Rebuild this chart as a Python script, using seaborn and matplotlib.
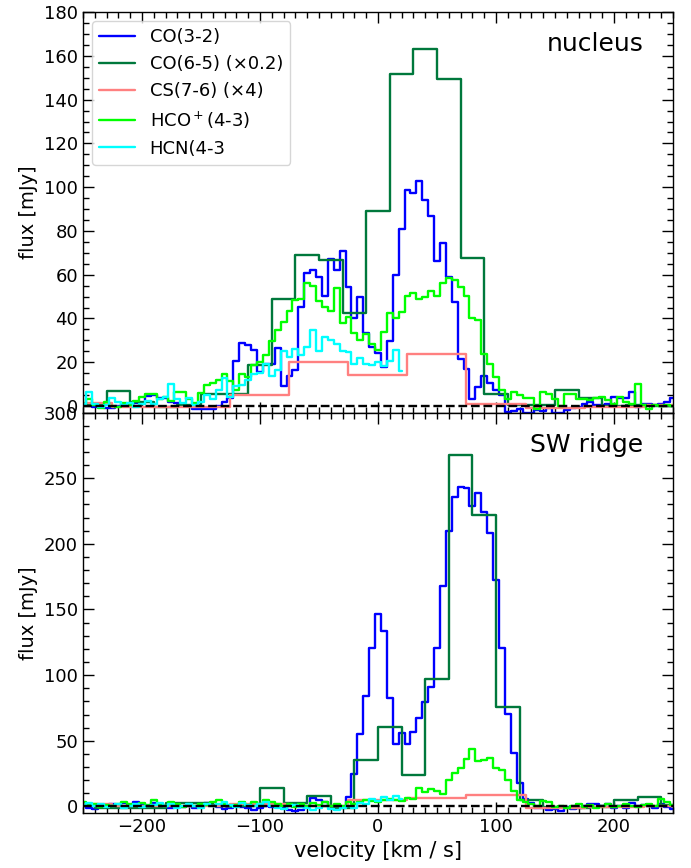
import numpy as np
import pandas as pd
import matplotlib
matplotlib.use('Agg')
import matplotlib.pyplot as plt
import seaborn as sns
from matplotlib.ticker import MultipleLocator

sns.set_style('ticks', {'axes.edgecolor': 'black', 'text.color': 'black',
                        'xtick.color': 'black', 'ytick.color': 'black',
                        'axes.labelcolor': 'black'})
plt.rcParams['font.family'] = ['DejaVu Sans']

# channel centres [km/s]
v5 = np.arange(-250, 251, 5)        # CO(3-2), HCO+(4-3)
v5_hcn = np.arange(-250, 21, 5)     # HCN(4-3) stops at +20
v20_nuc = np.arange(-240, 241, 20)  # CO(6-5), nucleus
v20_sw = np.arange(-250, 251, 20)   # CO(6-5), SW ridge
v50 = np.arange(-250, 251, 50)      # CS(7-6)

# ---- nucleus ----
co32_nuc = [1.1, 1.0, -0.4, -0.4, -0.7, -0.7, -0.2, 0.3, 0.3, 1.4, 1.4, 4.5, 4.9, 3.8, 3.8, 2.0, 1.5,
            -0.2, -0.2, -1.5, -1.5, -1.5, -1.5, -0.2, 2.0, 3.8, 20.6, 28.8, 27.7, 25.4, 15.5, 19.4, 19.0,
            26.5, 9.2, 13.8, 16.3, 45.3, 60.7, 62.3, 58.9, 50.3, 67.4, 62.0, 70.9, 54.4, 40.0, 49.9, 33.4,
            27.0, 24.0, 17.8, 29.7, 59.8, 81.1, 98.6, 97.4, 102.7, 94.0, 86.9, 66.3, 74.5, 59.0, 47.6, 21.7,
            17.1, 3.4, 8.7, 13.6, 10.5, 7.5, 4.9, -2.7, -2.5, -1.5, -3.0, -3.0, -2.0, -2.5, -1.0, -3.0, -3.0,
            -2.0, -1.0, -0.5, 1.1, 1.9, 0.5, 0.5, 0.8, 4.1, 3.6, 3.6, 6.4, -0.5, 0.8, 1.1, 0.3, 0.8, 2.0, 3.5]
co65_nuc = [1.0, 7.0, 1.8, -0.5, 0.3, 5.7, 5.7, 18.6, 49.0, 69.0, 66.6, 42.7, 89.0, 151.6, 163.0,
            149.3, 67.8, 5.7, 0.5, 0.5, 7.5, 3.8, 0.0, 0.5, 0.0]
cs76_nuc = [1.2, -0.5, -0.5, 4.9, 20.1, 14.0, 23.6, 1.1, -0.8, -0.5, 0.5]
hco_nuc = [1.0, 3.0, 0.5, -1.0, 2.0, 0.0, -0.5, 1.5, 0.5, 2.5, 4.0, 5.4, 5.4, 3.0, 4.0, 2.5, 6.4,
           6.4, 3.4, 1.5, 5.9, 9.5, 10.4, 11.9, 14.7, 11.5, 7.3, 14.4, 13.2, 18.6, 20.0, 23.1, 29.7,
           34.6, 38.4, 43.4, 48.6, 49.0, 56.4, 54.9, 48.2, 45.4, 43.4, 54.0, 37.8, 40.8, 33.2, 30.0, 32.8,
           28.5, 25.7, 33.7, 42.4, 40.3, 42.8, 50.1, 51.6, 49.0, 49.8, 52.6, 50.1, 56.2, 58.6, 57.4, 54.4,
           50.1, 40.3, 39.1, 23.6, 19.3, 13.2, 7.4, 3.4, 6.4, 4.9, 3.8, 3.8, -1.2, 6.4, 5.6, 3.4, 0.0,
           5.6, 5.6, 3.4, 3.0, 2.6, 3.5, 4.2, 2.6, 1.1, 4.2, 1.8, 0.8, 10.2, 0.5, -1.2, 0.5, 0.0, 0.5, 0.0]
hcn_nuc = [1.0, 6.4, 1.0, -0.5, 0.5, 3.5, 2.0, 0.5, 1.5, -0.5, 1.0, 2.5, 1.0, 3.0, 4.0, 10.2, 3.0,
           1.5, 3.5, 0.5, 2.0, 5.0, 3.3, 7.3, 12.6, 4.1, 9.0, 9.6, 11.9, 14.7, 15.0, 19.4, 13.8, 16.4,
           25.3, 22.3, 26.1, 23.1, 26.9, 34.6, 25.3, 31.6, 30.1, 28.5, 25.3, 24.5, 19.4, 22.1, 19.4,
           18.6, 20.1, 18.1, 20.4, 25.4, 16.1]

# ---- SW ridge ----
co32_sw = [2.0, -1.0, -2.0, 1.0, 0.0, 1.5, -0.5, 2.5, 1.0, 3.0, 2.0, 0.5, 2.5, 1.0, -0.5, -1.0, 0.5,
           -0.5, 0.0, -1.0, 0.5, 2.5, 1.0, -0.5, -2.0, -1.0, 0.5, -0.5, -1.5, -3.0, -1.0, 0.5, -0.5,
           1.0, -0.5, -3.0, -3.5, -3.0, 0.0, 6.1, 5.0, 3.0, 0.5, -1.0, -0.7, 6.8, 24.8, 55.2, 84.1,
           120.3, 146.9, 133.5, 82.3, 47.6, 55.7, 47.6, 56.9, 67.0, 79.9, 91.3, 120.3, 167.7, 209.8,
           235.6, 243.3, 242.5, 228.5, 238.7, 224.2, 208.2, 172.2, 120.8, 70.4, 41.0, 18.2, 5.5, 2.5,
           -1.5, -1.0, -3.0, -2.0, -3.5, -0.5, -2.0, -1.0, 0.5, 1.5, 2.0, 0.5, 1.5, -1.0, 0.5, -1.5,
           2.5, 0.5, 1.0, 0.5, -1.0, 1.5, -0.5, -2.0]
co65_sw = [1.0, -1.0, -1.5, -1.5, 2.5, 2.5, 0.5, 0.5, 14.0, 2.6, 7.6, -1.2, 35.5, 60.8, 24.1, 96.8,
           268.0, 221.7, 75.5, 5.1, -0.5, -1.0, -0.5, 5.0, 7.0, 1.0]
cs76_sw = [1.5, 0.5, 0.0, 1.5, 0.5, 5.1, 6.4, 8.5, -1.0, -0.5, 0.5]
hco_sw = [3.0, 1.0, 2.0, -0.5, 1.0, 0.5, 2.0, 3.0, 1.5, 0.0, 2.5, 1.0, 5.0, 2.0, 0.5, 3.0, 1.5,
          -0.5, 1.0, 0.0, 2.0, 1.0, 3.5, 4.5, 2.0, 0.5, 1.0, 3.0, 1.0, 3.5, 2.0, 5.0, 3.0, 1.5, 0.5,
          2.0, -0.5, 1.5, 0.5, 2.5, 1.0, 3.0, 0.0, 2.0, 0.5, 3.0, 2.0, 3.5, 5.0, 4.0, 3.5, 4.5, 6.0,
          5.0, 4.0, 6.5, 6.0, 14.0, 10.8, 12.9, 11.5, 9.5, 20.1, 25.2, 29.5, 35.8, 43.4, 34.6, 35.5,
          36.8, 29.2, 27.4, 20.3, 11.4, 5.1, 3.5, 2.0, 0.5, 4.0, 3.5, -0.5, 0.5, -1.0, 0.0, 2.0, -0.5,
          1.0, -1.0, 0.5, 1.5, -0.5, 0.0, 1.5, 0.5, -0.5, 1.0, 2.0, 0.5, 6.0, 3.0, 1.0]
hcn_sw = [1.0, 2.5, 0.0, 1.5, -0.5, 0.5, 2.0, -1.0, 0.5, 1.5, -0.5, 0.0, 1.0, 2.5, 0.5, 1.5, -1.0,
          0.5, 2.0, 0.0, -1.0, 1.5, 0.5, 2.0, 3.5, 1.0, -0.5, 2.5, 1.0, 0.0, 1.5, 3.0, 0.5, -1.0, -2.0,
          0.5, 1.0, -0.5, -1.5, -2.5, -1.0, 0.5, -2.0, -3.0, -1.0, 0.5, -1.0, 2.5, 1.5, 6.0, 4.0, 7.5,
          5.0, 8.0, 5.5]

labels = ['CO(3-2)', 'CO(6-5) (×0.2)', 'CS(7-6) (×4)', 'HCO$^+$(4-3)', 'HCN(4-3']
colors = ['#0000ff', '#00783c', '#ff8080', '#00ff00', '#00ffff']


def spec(ax, v, flux, color, label, pad=False):
    v = np.asarray(v, float)
    flux = np.asarray(flux, float)
    if pad:  # wide channels: carry the first/last channel out to the plot edge
        v = np.r_[-250, v, 250]
        flux = np.r_[flux[0], flux, flux[-1]]
    df = pd.DataFrame({'velocity': v, 'flux': flux})
    sns.lineplot(data=df, x='velocity', y='flux', ax=ax, color=color, lw=1.7,
                 drawstyle='steps-mid', estimator=None, sort=False, label=label)


fig, (ax1, ax2) = plt.subplots(2, 1, sharex=True, figsize=(6.91, 8.68), dpi=100)
fig.subplots_adjust(left=0.120, right=0.974, top=0.986, bottom=0.0634, hspace=0)

panels = [
    (ax1, [(v5, co32_nuc, False), (v20_nuc, co65_nuc, True), (v50, cs76_nuc, False),
           (v5, hco_nuc, False), (v5_hcn, hcn_nuc, False)], 'nucleus', (-3, 180), 20, 5),
    (ax2, [(v5, co32_sw, False), (v20_sw, co65_sw, False), (v50, cs76_sw, False),
           (v5, hco_sw, False), (v5_hcn, hcn_sw, False)], 'SW ridge', (-5, 300), 50, 10),
]

for ax, series, name, ylim, ymaj, ymin in panels:
    for (v, f, pad), c, lab in zip(series, colors, labels):
        spec(ax, v, f, c, lab, pad)
    ax.axhline(0, color='k', ls='--', lw=1.7, zorder=5)
    ax.set_xlim(-250, 250)
    ax.set_ylim(*ylim)
    ax.yaxis.set_major_locator(MultipleLocator(ymaj))
    ax.yaxis.set_minor_locator(MultipleLocator(ymin))
    ax.xaxis.set_major_locator(MultipleLocator(100))
    ax.xaxis.set_minor_locator(MultipleLocator(10))
    ax.tick_params(which='both', direction='in', top=True, right=True, labelsize=13)
    ax.tick_params(which='major', length=8, width=1)
    ax.tick_params(which='minor', length=4, width=1)
    for s in ax.spines.values():
        s.set_linewidth(1)
    ax.set_ylabel('flux [mJy]', fontsize=14)
    ax.text(0.95, 0.95, name, transform=ax.transAxes, ha='right', va='top', fontsize=18)
    if ax.get_legend() is not None:
        ax.get_legend().remove()

ax1.legend(loc='upper left', fontsize=13, frameon=True, handlelength=2)
ax1.set_xlabel('')
ax2.set_xlabel('velocity [km / s]', fontsize=15)

fig.savefig('out.png', dpi=100)
